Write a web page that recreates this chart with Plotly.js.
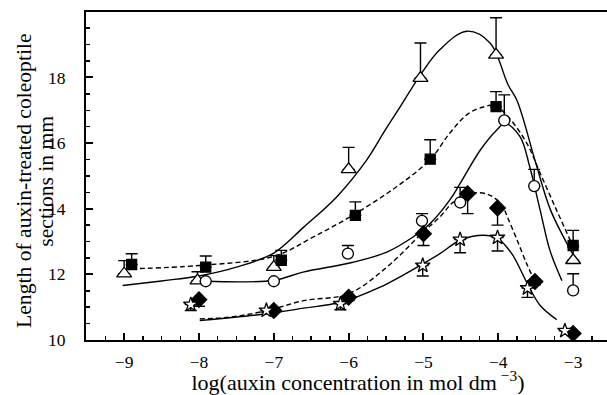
<!DOCTYPE html>
<html>
<head>
<meta charset="utf-8">
<script src="https://cdn.plot.ly/plotly-3.0.1.min.js"></script>
<style>
html,body{margin:0;padding:0;overflow:hidden;background:#fff;}
#chart{width:630px;height:395px;}
</style>
</head>
<body>
<div id="chart"></div>
<script>
// ---- data points ----
var triX = [-9.0, -8.02, -7.0, -6.0, -5.04, -4.03, -3.0];
var triY = [12.02, 11.81, 12.22, 15.2, 17.98, 18.69, 12.43];
var triErr = [0.4, 0.27, 0.35, 0.67, 1.07, 1.13, 0.4];

var sqX = [-8.9, -7.91, -6.9, -5.91, -4.91, -4.03, -3.0];
var sqY = [12.3, 12.22, 12.43, 13.8, 15.51, 17.11, 12.88];
var sqErr = [0.33, 0.34, 0.3, 0.41, 0.59, 0.46, 0.46];

var circX = [-7.91, -7.0, -6.01, -5.02, -4.51, -3.92, -3.52, -3.0];
var circY = [11.79, 11.79, 12.63, 13.63, 14.19, 16.69, 14.69, 11.51];
var circErr = [0, 0, 0.25, 0.22, 0.46, 0.78, 0.51, 0.51];

var diaX = [-8.0, -7.0, -6.0, -5.0, -4.41, -4.01, -3.51, -3.0];
var diaY = [11.23, 10.9, 11.3, 13.24, 14.46, 14.02, 11.78, 10.2];
var diaErr = [0.2, 0.05, 0.1, 0.36, 0.61, 0.52, 0.1, 0];

var starX = [-8.11, -7.1, -6.11, -5.01, -4.51, -4.01, -3.61, -3.11];
var starY = [11.08, 10.9, 11.1, 12.27, 13.06, 13.12, 11.58, 10.28];
var starErr = [0.18, 0.05, 0.18, 0.32, 0.4, 0.41, 0.28, 0];

// ---- fitted curves ----
var triCurveX = [-9.02, -8.5, -8.0, -7.5, -7.0, -6.6, -6.16, -5.76, -5.51, -5.31, -5.04, -4.78, -4.42, -4.11, -3.87, -3.75, -3.5, -3.3, -3.0];
var triCurveY = [11.66, 11.8, 11.95, 12.22, 12.65, 13.44, 14.36, 15.48, 16.4, 17.11, 18.08, 18.85, 19.41, 19.05, 17.78, 17.3, 15.4, 13.95, 12.6];

var sqCurveX = [-8.9, -8.0, -7.0, -6.47, -5.91, -5.36, -4.91, -4.65, -4.4, -4.2, -4.05, -3.89, -3.62, -3.44, -3.22, -3.0];
var sqCurveY = [12.17, 12.27, 12.55, 13.14, 13.85, 14.67, 15.5, 16.3, 16.9, 17.1, 17.15, 16.86, 16.0, 15.08, 13.95, 12.85];

var circCurveX = [-7.91, -7.0, -6.61, -5.94, -5.49, -5.14, -4.91, -4.65, -4.51, -4.24, -4.02, -3.91, -3.71, -3.58, -3.44, -3.31, -3.15];
var circCurveY = [11.79, 11.82, 12.07, 12.37, 12.68, 13.14, 13.55, 14.26, 14.77, 15.79, 16.4, 16.6, 16.2, 15.28, 13.95, 12.73, 11.81];

var diaCurveX = [-7.99, -7.54, -7.05, -6.6, -6.0, -5.49, -5.0, -4.78, -4.6, -4.33, -4.11, -3.95, -3.87, -3.75, -3.62, -3.51];
var diaCurveY = [10.64, 10.71, 10.92, 11.2, 11.41, 12.22, 13.3, 13.75, 14.2, 14.48, 14.41, 14.1, 13.7, 13.05, 12.32, 11.78];

var starCurveX = [-7.99, -7.1, -6.6, -6.11, -5.58, -5.01, -4.78, -4.51, -4.2, -4.01, -3.82, -3.61, -3.44, -3.22];
var starCurveY = [10.59, 10.8, 10.97, 11.15, 11.61, 12.32, 12.63, 13.04, 13.19, 13.1, 12.63, 11.71, 11.05, 10.62];

// ---- labels ----
var xTitle = 'log(auxin concentration in mol dm<sup> \u22123</sup>)';
var yTitle1 = 'Length of auxin-treated coleoptile';
var yTitle2 = 'sections in mm';

var FONT = '"Liberation Serif", "Times New Roman", Times, serif';
var LW = 1.4;

function curve(x, y, dash) {
  return {x: x, y: y, type: 'scatter', mode: 'lines', hoverinfo: 'skip',
    line: {color: '#000', width: LW, shape: 'spline', smoothing: 1, dash: dash || 'solid'},
    showlegend: false};
}
function pts(x, y, err, up, symbol, size, fill) {
  var zeros = err.map(function(){return 0;});
  return {x: x, y: y, type: 'scatter', mode: 'markers', showlegend: false,
    marker: {symbol: symbol, size: size, color: fill, line: {color: '#000', width: 1.3}},
    error_y: {type: 'data', symmetric: false,
      array: up ? err : zeros, arrayminus: up ? zeros : err,
      color: '#000', thickness: 1.4, width: 6}};
}

var traces = [
  curve(triCurveX, triCurveY),
  curve(sqCurveX, sqCurveY, '5px,3px'),
  curve(circCurveX, circCurveY),
  curve(diaCurveX, diaCurveY, '5px,3px'),
  curve(starCurveX, starCurveY),
  pts(triX, triY, triErr, true, 'triangle-up', 13, '#fff'),
  pts(sqX, sqY, sqErr, true, 'square', 10, '#000'),
  pts(circX, circY, circErr, true, 'circle', 11, '#fff'),
  pts(diaX, diaY, diaErr, false, 'diamond', 12, '#000'),
  pts(starX, starY, starErr, false, 'star', 11, '#fff')
];

var layout = {
  width: 630, height: 395,
  margin: {l: 86, r: 0, t: 12, b: 55},
  paper_bgcolor: '#fff', plot_bgcolor: '#fff',
  font: {family: FONT, color: '#000', size: 17.5},
  showlegend: false,
  xaxis: {
    range: [-9.51, -2.24], tick0: -9, dtick: 1,
    showgrid: false, zeroline: false,
    showline: true, linewidth: 2, linecolor: '#000', mirror: true,
    ticks: 'inside', ticklen: 7, tickwidth: 2, tickcolor: '#000',
    ticklabelstandoff: 5,
    minor: {dtick: 0.25, tick0: -9, ticks: 'inside', ticklen: 4, tickwidth: 1.5, tickcolor: '#000', showgrid: false},
    tickfont: {family: FONT, size: 17.5},
    title: {text: xTitle, font: {family: FONT, size: 22}, standoff: 4}
  },
  yaxis: {
    range: [10, 19.995], tick0: 10, dtick: 2,
    showgrid: false, zeroline: false,
    showline: true, linewidth: 2, linecolor: '#000', mirror: true,
    ticks: 'inside', ticklen: 7, tickwidth: 2, tickcolor: '#000',
    ticklabelstandoff: 15,
    minor: {dtick: 0.5, tick0: 10, ticks: 'inside', ticklen: 4, tickwidth: 1.5, tickcolor: '#000', showgrid: false},
    tickfont: {family: FONT, size: 17.5}
  },
  annotations: [
    {text: yTitle1, xref: 'paper', yref: 'paper', x: -0.114, y: 0.485, xanchor: 'center', yanchor: 'middle',
     textangle: -90, showarrow: false, font: {family: FONT, size: 21.6}},
    {text: yTitle2, xref: 'paper', yref: 'paper', x: -0.074, y: 0.485, xanchor: 'center', yanchor: 'middle',
     textangle: -90, showarrow: false, font: {family: FONT, size: 21.6}}
  ]
};

Plotly.newPlot('chart', traces, layout, {displayModeBar: false, staticPlot: true});
</script>
</body>
</html>
